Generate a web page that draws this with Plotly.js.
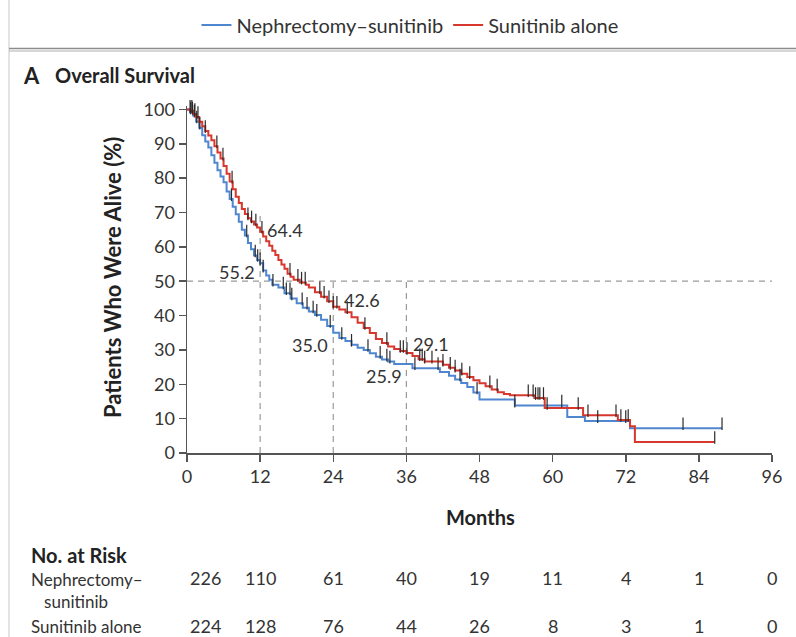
<!DOCTYPE html>
<html>
<head>
<meta charset="utf-8">
<script src="https://cdn.plot.ly/plotly-3.0.1.min.js"></script>
<style>
  html, body { margin: 0; padding: 0; background: #fff; }
  #chart { width: 796px; height: 637px; }
</style>
</head>
<body>
<div id="chart"></div>
<script>
// ---------------- DATA ----------------
const seriesNames = ["Nephrectomy\u2013sunitinib", "Sunitinib alone"];

const nephTime = [0,0.5,1,1.5,2,2.5,3,3.5,4,4.5,5,5.5,6,6.5,7,7.5,8,8.5,9,9.5,10,10.5,11,11.5,12,12.5,13,13.5,14,15,16,17,18,19,20,21,22,23,24,25,26,27,28,29,30,31,32,33,34,37,41.5,43,44,45,46,47,48,53.8,62.4,65.3,72.7,87.8];
const nephSurv = [100,99.1,98.2,96.5,94.7,92.5,90.7,88.9,86.7,84.5,82.3,80.5,78.8,76.1,73.9,71.7,69.5,67.3,65.0,63.3,61.1,59.3,57.5,56.2,55.2,53.1,51.7,50.4,49.0,48.2,46.5,45.0,43.6,42.3,41.2,40.2,38.8,37.0,35.0,33.5,32.6,31.5,30.6,30.0,29.0,28.0,27.2,26.6,25.9,24.7,23.6,22.5,21.4,20.4,19.2,17.6,15.6,13.8,10.5,9.3,7.2,7.2];

const sunitTime = [0,0.5,1,1.5,2,2.5,3,3.5,4,4.5,5,5.5,6,6.5,7,7.5,8,8.5,9,9.5,10,10.5,11,11.5,12,12.5,13,13.5,14,14.5,15,15.5,16,16.5,17,17.5,18.5,19.5,20,21,22,23,24,25,26,27,28,29,30,31,32,33,34,35,36,37,38,39,42,43,44,45,46,47,48,49,50,51,52,53,57,58.7,65,70.7,72.7,73.5,86.6];
const sunitSurv = [100,99.6,98.7,97.8,96.4,95.1,93.7,92.4,91.0,89.3,87.5,85.7,83.5,81.3,79.0,76.8,74.6,72.8,71.0,69.6,68.3,67.4,66.5,65.6,64.4,63.0,61.6,60.3,58.9,57.6,56.2,54.9,53.6,52.2,51.3,50.4,49.6,49.0,48.2,46.8,45.5,44.2,42.6,41.8,41.0,39.5,37.9,36.4,34.9,33.2,32.0,31.0,30.3,29.7,29.1,28.2,27.3,26.6,25.7,24.8,24.0,23.1,22.1,21.2,20.3,19.4,18.5,17.7,17.2,16.8,16.0,13.1,11.0,9.6,7.8,3.2,3.2];

const nephCensor = [0.3,0.6,0.9,1.2,1.6,2.1,7.3,9.8,11.2,11.6,12.0,12.5,14.1,15.8,16.3,16.9,17.2,18.9,19.7,20.7,21.3,23.5,25.4,27.0,29.7,31.7,32.8,33.3,37.4,41.2,44.8,47.6,53.8,61.5,67.4,72.0,81.4,87.8];
const sunitCensor = [0.2,0.5,0.8,1.3,1.8,3.0,4.9,5.9,7.4,10.0,10.6,11.3,12.3,16.9,18.2,18.8,19.4,21.8,22.5,23.3,24.0,24.6,26.3,29.2,32.8,35.0,35.5,36.1,38.2,38.6,39.0,40.2,42.0,43.2,44.0,45.1,46.4,49.7,50.9,56.0,56.8,57.2,57.6,57.9,58.5,59.1,64.2,65.8,70.4,71.2,72.4,86.6];

const landmarkMonths = [12, 24, 36];
const nephLandmark = [55.2, 35.0, 25.9];
const sunitLandmark = [64.4, 42.6, 29.1];
const medianLine = 50;

const xTicks = [0,12,24,36,48,60,72,84,96];
const yTicks = [0,10,20,30,40,50,60,70,80,90,100];
const riskTimes = [0,12,24,36,48,60,72,84,96];
const nephRisk = [226,110,61,40,19,11,4,1,0];
const sunitRisk = [224,128,76,44,26,8,3,1,0];

// ---------------- STYLE ----------------
const FONT = 'Lato, "Open Sans", sans-serif';
const TXT = '#333333';
const BLUE = '#4f86d0';
const RED = '#d7372c';
const W = 796, H = 637;
const L = 187, R = 24, T = 106, B = 184;
const PW = W - L - R, PH = H - T - B;
const px2x = px => (px - L) / PW;
const py2y = py => (H - B - py) / PH;

function stepValue(t, times, surv) {
  let v = surv[0];
  for (let i = 0; i < times.length; i++) { if (times[i] <= t) v = surv[i]; else break; }
  return v;
}

const traces = [
  { x: nephTime, y: nephSurv, type: 'scatter', mode: 'lines', name: seriesNames[0],
    line: { color: BLUE, width: 2, shape: 'hv' }, cliponaxis: false },
  { x: sunitTime, y: sunitSurv, type: 'scatter', mode: 'lines', name: seriesNames[1],
    line: { color: RED, width: 2, shape: 'hv' }, cliponaxis: false },
  { x: nephCensor, y: nephCensor.map(t => stepValue(t, nephTime, nephSurv) + 1.3),
    type: 'scatter', mode: 'markers', showlegend: false, hoverinfo: 'skip', cliponaxis: false,
    marker: { symbol: 'line-ns', size: 9, line: { color: '#2a2a2a', width: 1.2 } } },
  { x: sunitCensor, y: sunitCensor.map(t => stepValue(t, sunitTime, sunitSurv) + 1.3),
    type: 'scatter', mode: 'markers', showlegend: false, hoverinfo: 'skip', cliponaxis: false,
    marker: { symbol: 'line-ns', size: 9, line: { color: '#2a2a2a', width: 1.2 } } }
];

const dash = { color: '#9a9a9a', width: 1.2, dash: '6px,5px' };
const shapes = [
  { type: 'line', xref: 'x', yref: 'y', x0: 0, x1: 96, y0: medianLine, y1: medianLine, line: dash, layer: 'below' },
  { type: 'line', xref: 'x', yref: 'y', x0: landmarkMonths[0], x1: landmarkMonths[0], y0: 0, y1: 70, line: dash, layer: 'below' },
  { type: 'line', xref: 'x', yref: 'y', x0: landmarkMonths[1], x1: landmarkMonths[1], y0: 0, y1: medianLine, line: dash, layer: 'below' },
  { type: 'line', xref: 'x', yref: 'y', x0: landmarkMonths[2], x1: landmarkMonths[2], y0: 0, y1: medianLine, line: dash, layer: 'below' },
  // frame lines of the figure panel
  { type: 'line', xref: 'paper', yref: 'paper', x0: px2x(9), x1: px2x(9), y0: py2y(0), y1: py2y(H), line: { color: '#c8c8c8', width: 1 } },
  { type: 'line', xref: 'paper', yref: 'paper', x0: px2x(9), x1: px2x(W), y0: py2y(48.5), y1: py2y(48.5), line: { color: '#8c8c8c', width: 1.5 } },
  { type: 'line', xref: 'paper', yref: 'paper', x0: px2x(9), x1: px2x(W), y0: py2y(51), y1: py2y(51), line: { color: '#b0b0b0', width: 1.2 } }
];

const annFont = { family: FONT, size: 18, color: TXT };
const annotations = [];
// landmark labels
const lmOffsets = {
  neph: [ {xa:'right', xs:-3, ys:-9}, {xa:'right', xs:-3, ys:-12}, {xa:'right', xs:-2, ys:-12} ],
  sunit:[ {xa:'left', xs:5, ys:2}, {xa:'left', xs:9, ys:7}, {xa:'left', xs:5, ys:9} ]
};
landmarkMonths.forEach((m, i) => {
  annotations.push({ x: m, y: nephLandmark[i], xref: 'x', yref: 'y', text: nephLandmark[i].toFixed(1),
    showarrow: false, xanchor: lmOffsets.neph[i].xa, yanchor: 'middle', xshift: lmOffsets.neph[i].xs, yshift: lmOffsets.neph[i].ys, font: annFont });
  annotations.push({ x: m, y: sunitLandmark[i], xref: 'x', yref: 'y', text: sunitLandmark[i].toFixed(1),
    showarrow: false, xanchor: lmOffsets.sunit[i].xa, yanchor: 'middle', xshift: lmOffsets.sunit[i].xs, yshift: lmOffsets.sunit[i].ys, font: annFont });
});

// panel title
annotations.push({ xref: 'paper', yref: 'paper', x: px2x(21), y: py2y(75), text: '<b>A</b>', showarrow: false,
  xanchor: 'left', yanchor: 'middle', font: { family: FONT, size: 22, color: '#222' } });
annotations.push({ xref: 'paper', yref: 'paper', x: px2x(53), y: py2y(75), text: '<b>Overall Survival</b>', showarrow: false,
  xanchor: 'left', yanchor: 'middle', font: { family: FONT, size: 20, color: '#222' } });

// axis titles
annotations.push({ xref: 'paper', yref: 'paper', x: px2x(112), y: py2y(278), text: '<b>Patients Who Were Alive (%)</b>',
  textangle: -90, showarrow: false, xanchor: 'center', yanchor: 'middle', font: { family: FONT, size: 22, color: '#222' } });
annotations.push({ xref: 'paper', yref: 'paper', x: px2x(480), y: py2y(517), text: '<b>Months</b>',
  showarrow: false, xanchor: 'center', yanchor: 'middle', font: { family: FONT, size: 20, color: '#222' } });

// number at risk table
const lblFont = { family: FONT, size: 17, color: TXT };
const numFont = { family: FONT, size: 18, color: TXT };
annotations.push({ xref: 'paper', yref: 'paper', x: px2x(29), y: py2y(555), text: '<b>No. at Risk</b>',
  showarrow: false, xanchor: 'left', yanchor: 'middle', font: { family: FONT, size: 20, color: '#222' } });
annotations.push({ xref: 'paper', yref: 'paper', x: px2x(29), y: py2y(567), text: 'Nephrectomy\u2013<br>\u00a0\u00a0\u00a0sunitinib',
  showarrow: false, xanchor: 'left', yanchor: 'top', align: 'left', font: lblFont });
annotations.push({ xref: 'paper', yref: 'paper', x: px2x(29), y: py2y(626), text: 'Sunitinib alone',
  showarrow: false, xanchor: 'left', yanchor: 'middle', font: lblFont });
riskTimes.forEach((t, i) => {
  const shift = i === 0 ? 18 : 0;
  annotations.push({ xref: 'x', yref: 'paper', x: t, y: py2y(578), text: String(nephRisk[i]), showarrow: false,
    xanchor: 'center', yanchor: 'middle', xshift: shift, font: numFont });
  annotations.push({ xref: 'x', yref: 'paper', x: t, y: py2y(626), text: String(sunitRisk[i]), showarrow: false,
    xanchor: 'center', yanchor: 'middle', xshift: shift, font: numFont });
});

const layout = {
  width: W, height: H,
  margin: { l: L, r: R, t: T, b: B, pad: 0 },
  paper_bgcolor: '#ffffff', plot_bgcolor: '#ffffff',
  font: { family: FONT, size: 18, color: TXT },
  showlegend: true,
  legend: { orientation: 'h', xref: 'container', yref: 'container', x: 0.515, xanchor: 'center',
    y: 1 - 25 / H, yanchor: 'middle', font: { family: FONT, size: 20, color: TXT },
    tracegroupgap: 0, bgcolor: 'rgba(0,0,0,0)' },
  xaxis: { range: [0, 96], tickvals: xTicks, ticktext: xTicks.map(String), ticks: 'outside', ticklen: 7,
    tickwidth: 1.5, tickcolor: '#555', showline: true, linecolor: '#555', linewidth: 1.5,
    showgrid: false, zeroline: false, tickfont: { family: FONT, size: 18, color: TXT }, fixedrange: true },
  yaxis: { range: [0, 101], tickvals: yTicks, ticktext: yTicks.map(String), ticks: 'outside', ticklen: 7,
    tickwidth: 1.5, tickcolor: '#555', showline: true, linecolor: '#555', linewidth: 1.5,
    showgrid: false, zeroline: false, tickfont: { family: FONT, size: 18, color: TXT }, fixedrange: true },
  shapes: shapes,
  annotations: annotations
};

Plotly.newPlot('chart', traces, layout, { displayModeBar: false, staticPlot: true });
</script>
</body>
</html>
